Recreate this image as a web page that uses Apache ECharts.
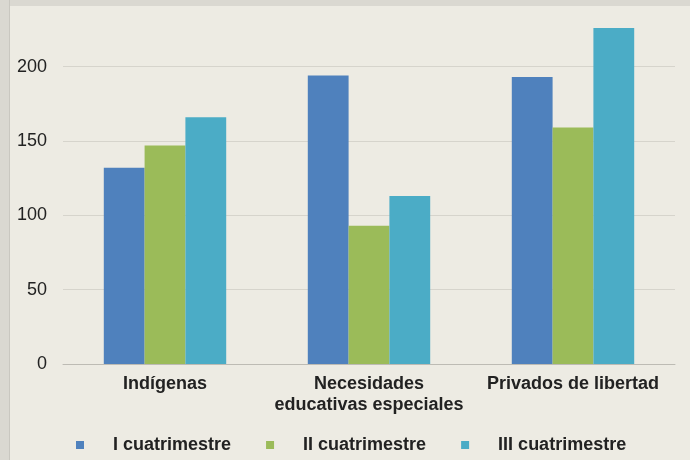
<!DOCTYPE html>
<html>
<head>
<meta charset="utf-8">
<script src="https://cdn.jsdelivr.net/npm/echarts@6/dist/echarts.min.js"></script>
<style>
  html, body { margin: 0; padding: 0; background: #EDEBE3; }
  #chart { width: 690px; height: 460px; }
</style>
</head>
<body>
<div id="chart"></div>
<script>
// categorías del eje x
const categories = ['Indígenas', 'Necesidades\neducativas especiales', 'Privados de libertad'];
const seriesNames = ['I cuatrimestre', 'II cuatrimestre', 'III cuatrimestre'];
// valores por cuatrimestre
const cuatri1 = [132, 194, 193];
const cuatri2 = [147, 93, 159];
const cuatri3 = [166, 113, 226];
const yTicks = [0, 50, 100, 150, 200];

const colors = ['#4F81BD', '#9BBB59', '#4BACC6'];
const font = '"Liberation Sans", Arial, sans-serif';

const chart = echarts.init(document.getElementById('chart'), null, { renderer: 'canvas' });

const option = {
  backgroundColor: '#EDEBE3',
  animation: false,
  color: colors,
  graphic: [
    // borde gris a la izquierda y arriba
    { type: 'rect', left: 0, top: 0, shape: { width: 9, height: 460 }, style: { fill: '#DAD8D1' } },
    { type: 'rect', left: 0, top: 0, shape: { width: 690, height: 6 }, style: { fill: '#DAD8D1' } },
    { type: 'rect', left: 9, top: 0, shape: { width: 1, height: 460 }, style: { fill: '#C9C7C0' } }
  ],
  grid: { left: 63, right: 15, top: 22, bottom: 96, containLabel: false },
  legend: {
    show: true,
    left: 71,
    top: 431,
    orient: 'horizontal',
    icon: 'rect',
    itemWidth: 8,
    itemHeight: 8,
    itemGap: 35,
    textStyle: {
      fontFamily: font,
      fontSize: 18,
      fontWeight: 'bold',
      color: '#222',
      padding: [0, 0, 0, 24]
    },
    data: seriesNames
  },
  xAxis: {
    type: 'category',
    data: categories,
    axisLine: { show: true, lineStyle: { color: '#BDBBB4', width: 1 } },
    axisTick: { show: false },
    splitLine: { show: false },
    axisLabel: {
      interval: 0,
      margin: 10,
      fontFamily: font,
      fontSize: 18,
      fontWeight: 'bold',
      lineHeight: 21,
      color: '#222'
    }
  },
  yAxis: {
    type: 'value',
    min: 0,
    max: 230,
    interval: 50,
    axisLine: { show: false },
    axisTick: { show: false },
    splitLine: { show: true, showMaxLine: false, lineStyle: { color: '#D6D4CC', width: 1 } },
    axisLabel: {
      showMaxLabel: false,
      margin: 16,
      fontFamily: font,
      fontSize: 18,
      color: '#222',
      formatter: v => (yTicks.includes(v) ? String(v) : '')
    }
  },
  series: [
    { name: seriesNames[0], type: 'bar', data: cuatri1, barWidth: '20%', barGap: '0%', barCategoryGap: '40%' },
    { name: seriesNames[1], type: 'bar', data: cuatri2, barWidth: '20%', barGap: '0%' },
    { name: seriesNames[2], type: 'bar', data: cuatri3, barWidth: '20%', barGap: '0%' }
  ]
};

chart.setOption(option);
</script>
</body>
</html>
